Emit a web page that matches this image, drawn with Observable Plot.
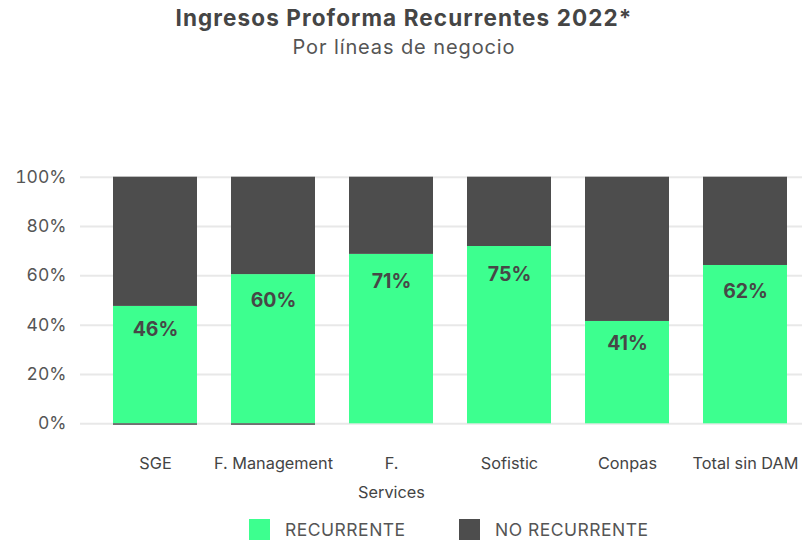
<!DOCTYPE html>
<html>
<head>
<meta charset="utf-8">
<script src="https://cdn.jsdelivr.net/npm/d3@7"></script>
<script src="https://cdn.jsdelivr.net/npm/@observablehq/plot@0.6"></script>
<style>
  html, body { margin: 0; padding: 0; background: #fff; }
  body { width: 802px; height: 540px; font-family: Inter, "Open Sans", sans-serif; position: relative; overflow: hidden; }
  #title { position: absolute; left: 0; width: 808px; top: 4px; text-align: center; font-weight: 700; font-size: 22.5px; color: #454545; letter-spacing: 1.1px; }
  #subtitle { position: absolute; left: 0; width: 808px; top: 35px; text-align: center; font-size: 20px; color: #555; letter-spacing: 0.9px; }
  #chart { position: absolute; left: 0; top: 60px; }
  .leg { position: absolute; top: 519px; height: 21px; display: flex; align-items: center; font-size: 17.5px; color: #555; }
  .sw { width: 21px; height: 21px; margin-right: 15px; }
</style>
</head>
<body>
<div id="title">Ingresos Proforma Recurrentes 2022*</div>
<div id="subtitle">Por líneas de negocio</div>
<div id="chart"></div>
<div id="legend"></div>
<script>
const categories = ["SGE", "F. Management", "F. Services", "Sofistic", "Conpas", "Total sin DAM"];
const recurrente = [47.6, 60.5, 68.7, 71.9, 41.5, 64.2];
const noRecurrente = [52.4, 39.5, 31.3, 28.1, 58.5, 35.8];
const ajuste = [-0.6, -0.6, 0, 0, 0, 0];
const etiquetas = ["46%", "60%", "71%", "75%", "41%", "62%"];
const series = ["RECURRENTE", "NO RECURRENTE"];
const colores = ["#3dff8f", "#4d4d4d"];
const yTicks = [0, 20, 40, 60, 80, 100];

const rows = [];
categories.forEach((c, i) => {
  rows.push({cat: c, serie: series[0], value: recurrente[i], order: 0});
  rows.push({cat: c, serie: series[1], value: noRecurrente[i], order: 1});
  if (ajuste[i] !== 0) rows.push({cat: c, serie: series[1], value: ajuste[i], order: 2});
});
const labelRows = categories.map((c, i) => ({cat: c, value: recurrente[i], label: etiquetas[i]}));

const chart = Plot.plot({
  width: 802,
  height: 460,
  marginTop: 116.7,
  marginBottom: 96.7,
  marginLeft: 80,
  marginRight: 0,
  style: {fontFamily: "Inter, 'Open Sans', sans-serif", background: "transparent"},
  x: {domain: categories, paddingInner: 0.29, paddingOuter: 0.196, align: 0.69, label: null},
  y: {domain: [0, 100], label: null},
  color: {domain: series, range: colores},
  marks: [
    Plot.ruleY(yTicks, {stroke: "#e8e8e8", strokeWidth: 2}),
    Plot.axisY({ticks: yTicks, tickFormat: d => d + "%", tickSize: 0, tickPadding: 14, fontSize: 17.5, fill: "#555", label: null}),
    Plot.axisX({tickSize: 0, tickPadding: 25, fontSize: 16.3, fill: "#444", lineHeight: 1.75,
      letterSpacing: "0.5px",
      tickFormat: d => d === "F. Services" ? "F.\nServices" : d, label: null}),
    Plot.barY(rows, {x: "cat", y: "value", fill: "serie", order: "order"}),
    Plot.text(labelRows, {x: "cat", y: d => d.value * 0.918 - 5.5, text: "label", fontSize: 19.5, fontWeight: 700, fill: "#474747"})
  ]
});
document.getElementById("chart").appendChild(chart);

const legend = document.getElementById("legend");
const legendX = [249, 459];
series.forEach((s, i) => {
  const el = document.createElement("div");
  el.className = "leg";
  el.style.left = legendX[i] + "px";
  el.style.letterSpacing = "0.5px";
  el.innerHTML = `<div class="sw" style="background:${colores[i]}"></div><span>${s}</span>`;
  legend.appendChild(el);
});
</script>
</body>
</html>
